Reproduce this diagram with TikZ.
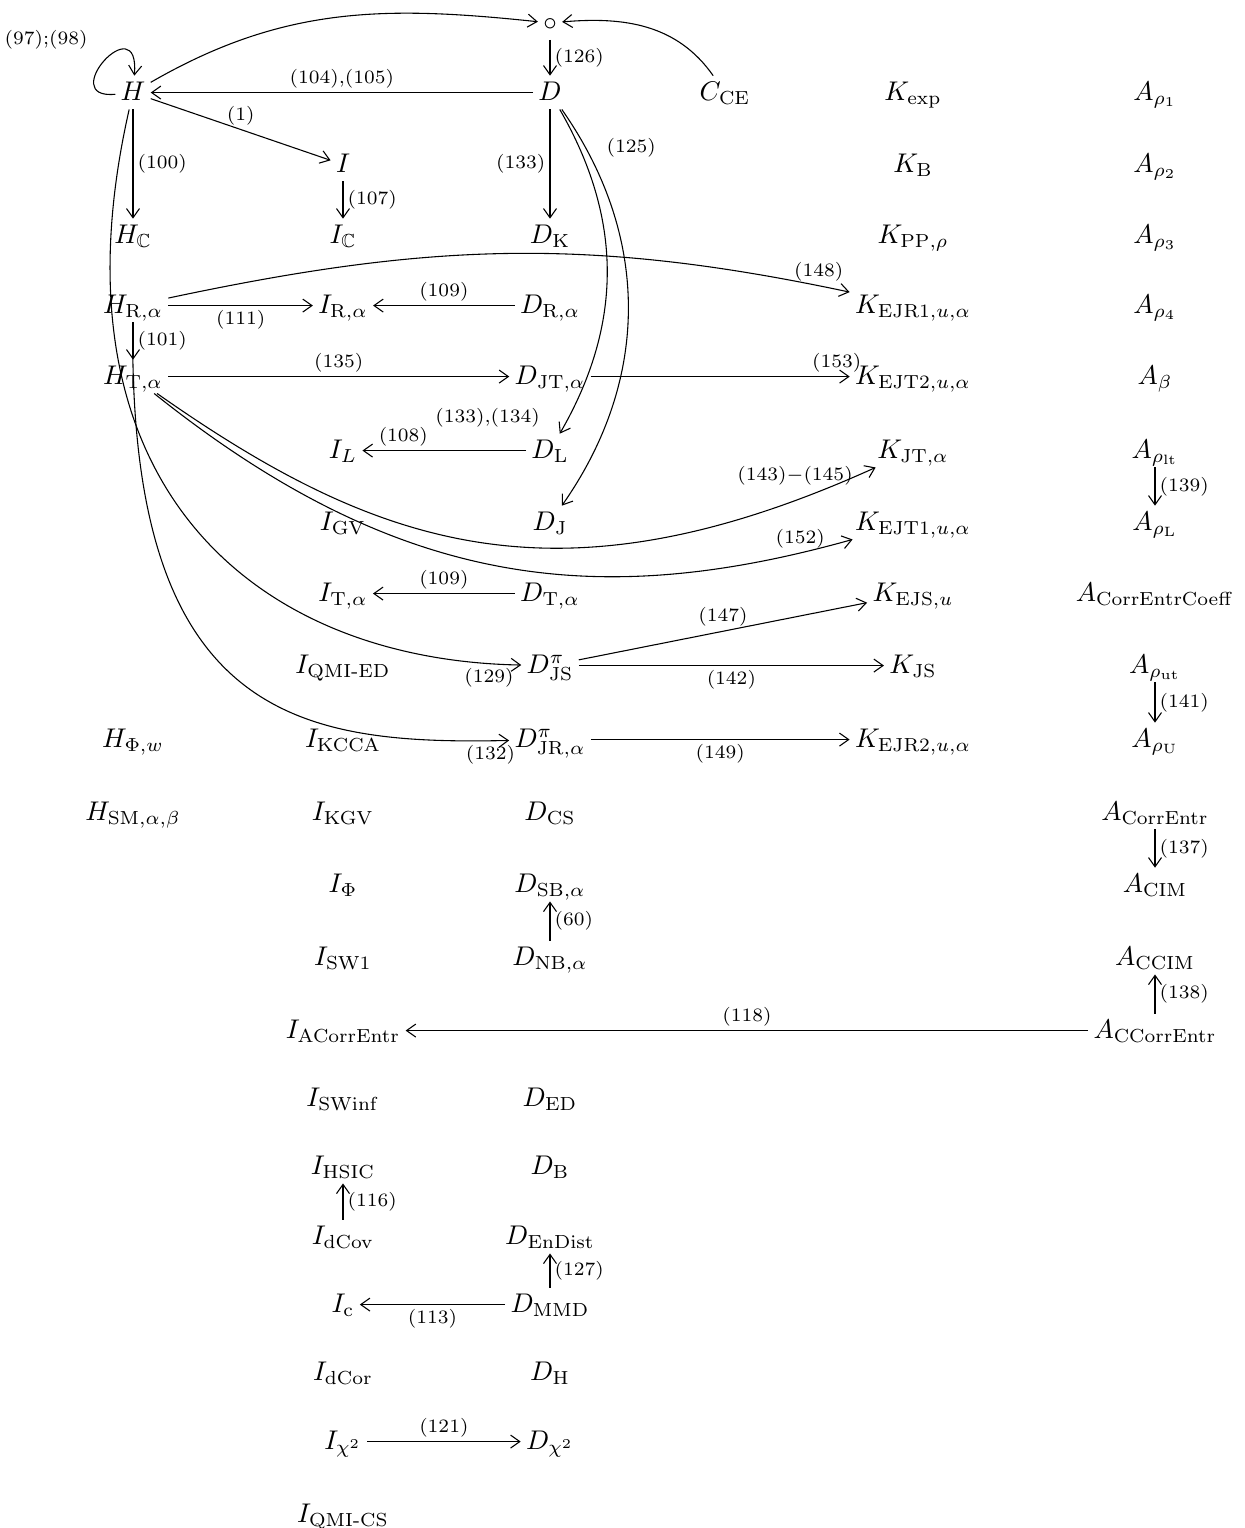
\documentclass[tikz,border=0pt]{standalone}
\usepackage{amsmath,amssymb}
\usetikzlibrary{arrows.meta}
\begin{document}
\begin{tikzpicture}[x=0.37pt, y=-0.37pt, line width=0.4pt,
  ob/.style={anchor=base, text height=7pt, text depth=1.5pt, inner sep=1pt, outer sep=1pt},
  lbl/.style={font=\scriptsize, inner sep=1.5pt},
  arr/.style={-{Straight Barb[length=3.4pt,width=4.8pt]}}]
\useasboundingbox (0,0) rectangle (1245,1528);
\node[ob,anchor=center] (circ) at (550,23) {$\circ$};
\node[ob] (H) at (133,100) {$H$};
\node[ob] (D) at (550,100) {$D$};
\node[ob] (CCE) at (725,100) {$C_{\mathrm{CE}}$};
\node[ob] (Kexp) at (913,100) {$K_{\exp}$};
\node[ob] (Arhoa) at (1155,100) {$A_{\rho_1}$};
\node[ob] (I) at (343,172) {$I$};
\node[ob] (KB) at (913,172) {$K_{\mathrm{B}}$};
\node[ob] (Arhob) at (1155,172) {$A_{\rho_2}$};
\node[ob] (HC) at (133,243) {$H_{\mathbb{C}}$};
\node[ob] (IC) at (343,243) {$I_{\mathbb{C}}$};
\node[ob] (DK) at (550,243) {$D_{\mathrm{K}}$};
\node[ob] (KPP) at (913,243) {$K_{\mathrm{PP},\rho}$};
\node[ob] (Arhoc) at (1155,243) {$A_{\rho_3}$};
\node[ob] (HR) at (133,313) {$H_{\mathrm{R},\alpha}$};
\node[ob] (IR) at (343,313) {$I_{\mathrm{R},\alpha}$};
\node[ob] (DR) at (550,313) {$D_{\mathrm{R},\alpha}$};
\node[ob] (KEJRa) at (913,313) {$K_{\mathrm{EJR1},u,\alpha}$};
\node[ob] (Arhod) at (1155,313) {$A_{\rho_4}$};
\node[ob] (HT) at (133,384) {$H_{\mathrm{T},\alpha}$};
\node[ob] (DJT) at (550,384) {$D_{\mathrm{JT},\alpha}$};
\node[ob] (KEJTb) at (913,384) {$K_{\mathrm{EJT2},u,\alpha}$};
\node[ob] (Abeta) at (1155,384) {$A_{\beta}$};
\node[ob] (IL) at (343,458) {$I_L$};
\node[ob] (DL) at (550,458) {$D_{\mathrm{L}}$};
\node[ob] (KJT) at (913,458) {$K_{\mathrm{JT},\alpha}$};
\node[ob] (Arholt) at (1155,458) {$A_{\rho_{\mathrm{lt}}}$};
\node[ob] (IGV) at (343,530) {$I_{\mathrm{GV}}$};
\node[ob] (DJ) at (550,530) {$D_{\mathrm{J}}$};
\node[ob] (KEJTa) at (913,530) {$K_{\mathrm{EJT1},u,\alpha}$};
\node[ob] (ArhoL) at (1155,530) {$A_{\rho_{\mathrm{L}}}$};
\node[ob] (IT) at (343,601) {$I_{\mathrm{T},\alpha}$};
\node[ob] (DT) at (550,601) {$D_{\mathrm{T},\alpha}$};
\node[ob] (KEJS) at (913,601) {$K_{\mathrm{EJS},u}$};
\node[ob] (ACEC) at (1155,601) {$A_{\mathrm{CorrEntrCoeff}}$};
\node[ob] (IQMIED) at (343,673) {$I_{\text{QMI-ED}}$};
\node[ob] (DJS) at (550,673) {$D^{\pi}_{\mathrm{JS}}$};
\node[ob] (KJS) at (913,673) {$K_{\mathrm{JS}}$};
\node[ob] (Arhout) at (1155,673) {$A_{\rho_{\mathrm{ut}}}$};
\node[ob] (HPhi) at (133,747) {$H_{\Phi,w}$};
\node[ob] (IKCCA) at (343,747) {$I_{\mathrm{KCCA}}$};
\node[ob] (DJR) at (550,747) {$D^{\pi}_{\mathrm{JR},\alpha}$};
\node[ob] (KEJRb) at (913,747) {$K_{\mathrm{EJR2},u,\alpha}$};
\node[ob] (ArhoU) at (1155,747) {$A_{\rho_{\mathrm{U}}}$};
\node[ob] (HSM) at (133,820) {$H_{\mathrm{SM},\alpha,\beta}$};
\node[ob] (IKGV) at (343,820) {$I_{\mathrm{KGV}}$};
\node[ob] (DCS) at (550,820) {$D_{\mathrm{CS}}$};
\node[ob] (ACE) at (1155,820) {$A_{\mathrm{CorrEntr}}$};
\node[ob] (IPhi) at (343,892) {$I_{\Phi}$};
\node[ob] (DSB) at (550,892) {$D_{\mathrm{SB},\alpha}$};
\node[ob] (ACIM) at (1155,892) {$A_{\mathrm{CIM}}$};
\node[ob] (ISWa) at (343,965) {$I_{\mathrm{SW1}}$};
\node[ob] (DNB) at (550,965) {$D_{\mathrm{NB},\alpha}$};
\node[ob] (ACCIM) at (1155,965) {$A_{\mathrm{CCIM}}$};
\node[ob] (IACE) at (343,1038) {$I_{\mathrm{ACorrEntr}}$};
\node[ob] (ACCE) at (1155,1038) {$A_{\mathrm{CCorrEntr}}$};
\node[ob] (ISWinf) at (343,1106) {$I_{\mathrm{SWinf}}$};
\node[ob] (DED) at (550,1106) {$D_{\mathrm{ED}}$};
\node[ob] (IHSIC) at (343,1174) {$I_{\mathrm{HSIC}}$};
\node[ob] (DB) at (550,1174) {$D_{\mathrm{B}}$};
\node[ob] (IdCov) at (343,1244) {$I_{\mathrm{dCov}}$};
\node[ob] (DEnDist) at (550,1244) {$D_{\mathrm{EnDist}}$};
\node[ob] (Ic) at (343,1312) {$I_{\mathrm{c}}$};
\node[ob] (DMMD) at (550,1312) {$D_{\mathrm{MMD}}$};
\node[ob] (IdCor) at (343,1380) {$I_{\mathrm{dCor}}$};
\node[ob] (DH) at (550,1380) {$D_{\mathrm{H}}$};
\node[ob] (Ichi) at (343,1449) {$I_{\chi^2}$};
\node[ob] (Dchi) at (550,1449) {$D_{\chi^2}$};
\node[ob] (IQMICS) at (343,1522) {$I_{\text{QMI-CS}}$};
% top part
\draw[arr] (H) to[out=30,in=174] (circ);
\draw[arr] (CCE) to[out=125,in=5] (circ);
\draw[arr] (circ) -- node[lbl,right] {(126)} (D);
\draw[arr] (D) -- node[lbl,above] {(104),(105)} (H);
\draw[arr] (H) -- node[lbl,above] {(1)} (I);
\draw[arr] (H) .. controls (55,100) and (140,5) .. node[lbl,pos=.4,above left,yshift=6pt,xshift=-2pt] {(97);(98)} (H);
\draw[arr] (H) -- node[lbl,right] {(100)} (HC);
\draw[arr] (I) -- node[lbl,right] {(107)} (IC);
\draw[arr] (D) -- node[lbl,left] {(133)} (DK);
\draw[arr] (D) to[out=-60,in=60] node[lbl,pos=.95,left=9pt] {(133),(134)} (DL);
\draw[arr] (D) to[out=-55,in=55] node[lbl,pos=.1,right=6pt] {(125)} (DJ);
% H rows
\draw[arr] (HR) to[out=12,in=168] node[lbl,pos=.96,above] {(148)} (KEJRa);
\draw[arr] (HR) -- node[lbl,below] {(111)} (IR);
\draw[arr] (DR) -- node[lbl,above] {(109)} (IR);
\draw[arr] (HR) -- node[lbl,right] {(101)} (HT);
\draw[arr] (H) .. controls (45,480) and (250,660) .. node[lbl,pos=.96,below] {(129)} (DJS);
\draw[arr] (HR) .. controls (128,720) and (300,745) .. node[lbl,pos=.97,below] {(132)} (DJR);
\draw[arr] (HT) -- node[lbl,above] {(135)} (DJT);
\draw[arr] (DJT) -- node[lbl,pos=.95,above] {(153)} (KEJTb);
\draw[arr] (HT) .. controls (380,550) and (560,610) .. node[lbl,pos=.96,left=5pt,yshift=3pt,xshift=12pt] {$(143){-}(145)$} (KJT);
\draw[arr] (HT) .. controls (400,590) and (600,610) .. node[lbl,pos=.93,above] {(152)} (KEJTa);
% middle
\draw[arr] (DL) -- node[lbl,pos=.75,above] {(108)} (IL);
\draw[arr] (DT) -- node[lbl,above] {(109)} (IT);
\draw[arr] (DJS) -- node[lbl,above] {(147)} (KEJS);
\draw[arr] (DJS) -- node[lbl,below] {(142)} (KJS);
\draw[arr] (DJR) -- node[lbl,below] {(149)} (KEJRb);
\draw[arr] (DNB) -- node[lbl,right] {(60)} (DSB);
% A column
\draw[arr] (Arholt) -- node[lbl,right] {(139)} (ArhoL);
\draw[arr] (Arhout) -- node[lbl,right] {(141)} (ArhoU);
\draw[arr] (ACE) -- node[lbl,right] {(137)} (ACIM);
\draw[arr] (ACCE) -- node[lbl,right] {(138)} (ACCIM);
\draw[arr] (ACCE) -- node[lbl,above] {(118)} (IACE);
% bottom
\draw[arr] (IdCov) -- node[lbl,right] {(116)} (IHSIC);
\draw[arr] (DMMD) -- node[lbl,right] {(127)} (DEnDist);
\draw[arr] (DMMD) -- node[lbl,below] {(113)} (Ic);
\draw[arr] (Ichi) -- node[lbl,above] {(121)} (Dchi);
\end{tikzpicture}
\end{document}
